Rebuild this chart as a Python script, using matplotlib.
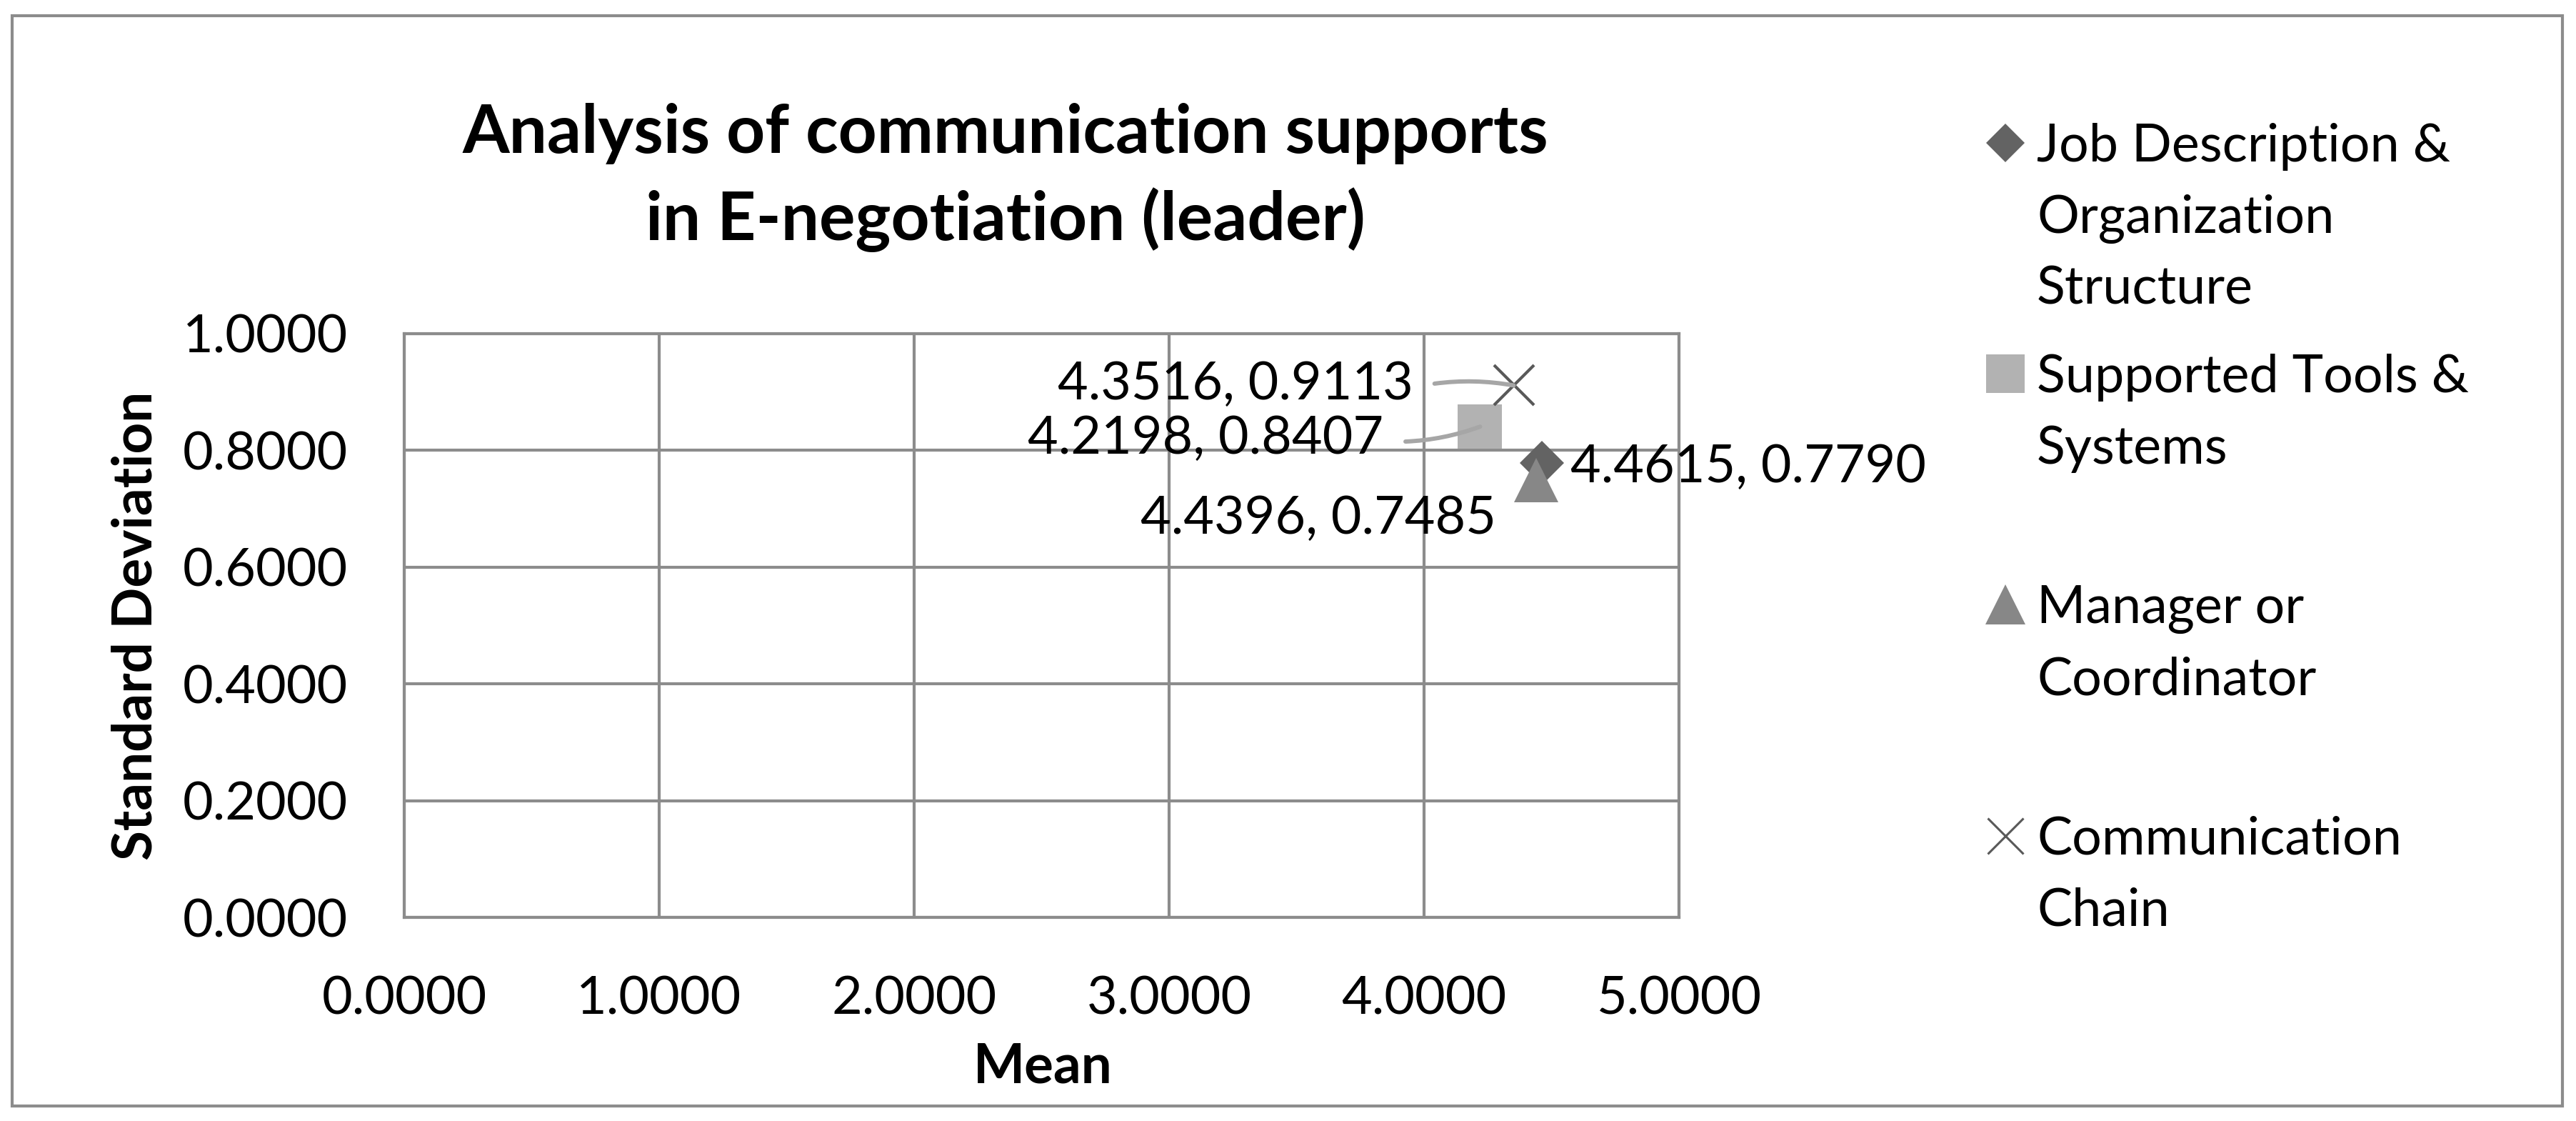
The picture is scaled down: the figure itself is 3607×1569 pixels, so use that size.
import matplotlib
matplotlib.use("Agg")
import matplotlib.pyplot as plt
from matplotlib.lines import Line2D
from matplotlib.patches import Rectangle

plt.rcParams['font.family'] = ['Lato', 'DejaVu Sans']

# data
series = ["Job Description &\nOrganization\nStructure",
          "Supported Tools &\nSystems",
          "Manager or\nCoordinator",
          "Communication\nChain"]
means = [4.4615, 4.2198, 4.4396, 4.3516]
stds = [0.7790, 0.8407, 0.7485, 0.9113]
x_ticks = [0, 1, 2, 3, 4, 5]
y_ticks = [0.0, 0.2, 0.4, 0.6, 0.8, 1.0]

# styles
markers = ['D', 's', '^', 'x']
colors = ['#636363', '#b2b2b2', '#878787', '#595959']
sizes = [31.5, 45, 45, 41]
leg_sizes = [27.5, 39.5, 40, 36]
# label offsets in px (to baseline), alignment, leader rad (None = no leader)
label_pos = [((40, -27), 'left', None),
             ((-135, -38), 'right', 0.1),
             ((-56, -75), 'right', None),
             ((-141, -20), 'right', -0.1)]

W, H = 3607, 1569
grid_c = '#8c8c8c'
fs = 53

fig = plt.figure(figsize=(W / 100, H / 100), dpi=100)
ax = fig.add_axes([566 / W, 1 - 1284 / H, 1785 / W, 817 / H])

for i in range(len(series)):
    is_x = markers[i] == 'x'
    ax.plot(means[i], stds[i], linestyle='none', marker=markers[i],
            markersize=sizes[i], color=colors[i],
            markeredgewidth=3 if is_x else 0, zorder=3, clip_on=False)
    (dx, dy), ha, rad = label_pos[i]
    txt = f"{means[i]:.4f}, {stds[i]:.4f}"
    ap = None
    if rad is not None:
        ap = dict(arrowstyle='-', color='#a6a6a6', lw=4.3, shrinkA=20, shrinkB=0,
                  relpos=(1.0, 0.45), connectionstyle=f'arc3,rad={rad}')
    ax.annotate(txt, xy=(means[i], stds[i]), xytext=(dx, dy),
                textcoords='offset pixels', ha=ha, va='baseline',
                fontsize=fs, arrowprops=ap, zorder=4)

ax.set_xlim(0, 5)
ax.set_ylim(0, 1)
ax.set_xticks(x_ticks)
ax.set_yticks(y_ticks)
ax.set_xticklabels([f"{v:.4f}" for v in x_ticks])
ax.set_yticklabels([f"{v:.4f}" for v in y_ticks])
ax.tick_params(length=0, labelsize=fs)
ax.tick_params(axis='x', pad=59)
ax.tick_params(axis='y', pad=57)
ax.grid(True, color=grid_c, linewidth=3)
for s in ax.spines.values():
    s.set_color(grid_c)
    s.set_linewidth(3)
ax.set_axisbelow(True)

fig.text(1460 / W, 1 - 1515 / H, "Mean", ha='center', va='baseline',
         fontsize=55, fontweight='bold')
fig.text(191 / W, 1 - 876 / H, "Standard Deviation", ha='center', va='center',
         rotation=90, fontsize=55, fontweight='bold')
fig.text(612 / 1568, 1 - 214 / H, "Analysis of communication supports",
         ha='center', va='baseline', fontsize=68, fontweight='bold')
fig.text(612 / 1568, 1 - 336 / H, "in E-negotiation (leader)",
         ha='center', va='baseline', fontsize=68, fontweight='bold')

# legend, drawn by hand to follow the reference spacing
leg_marker_y = [200, 523, 846, 1170]
for i, lab in enumerate(series):
    is_x = markers[i] == 'x'
    fig.add_artist(Line2D([2808 / W], [1 - leg_marker_y[i] / H],
                          transform=fig.transFigure, marker=markers[i],
                          markersize=leg_sizes[i], color=colors[i],
                          markeredgewidth=2.2 if is_x else 0, linestyle='none'))
    for k, line in enumerate(lab.split("\n")):
        base = leg_marker_y[i] + 26 + k * 100
        fig.text(2852 / W, 1 - base / H, line, ha='left', va='baseline',
                 fontsize=fs)

# outer frame
fig.add_artist(Rectangle((17 / W, 1 - 1548 / H), (3588 - 17) / W, (1548 - 22) / H,
                         transform=fig.transFigure, fill=False,
                         edgecolor=grid_c, linewidth=3))

fig.savefig("out.png", dpi=100)
